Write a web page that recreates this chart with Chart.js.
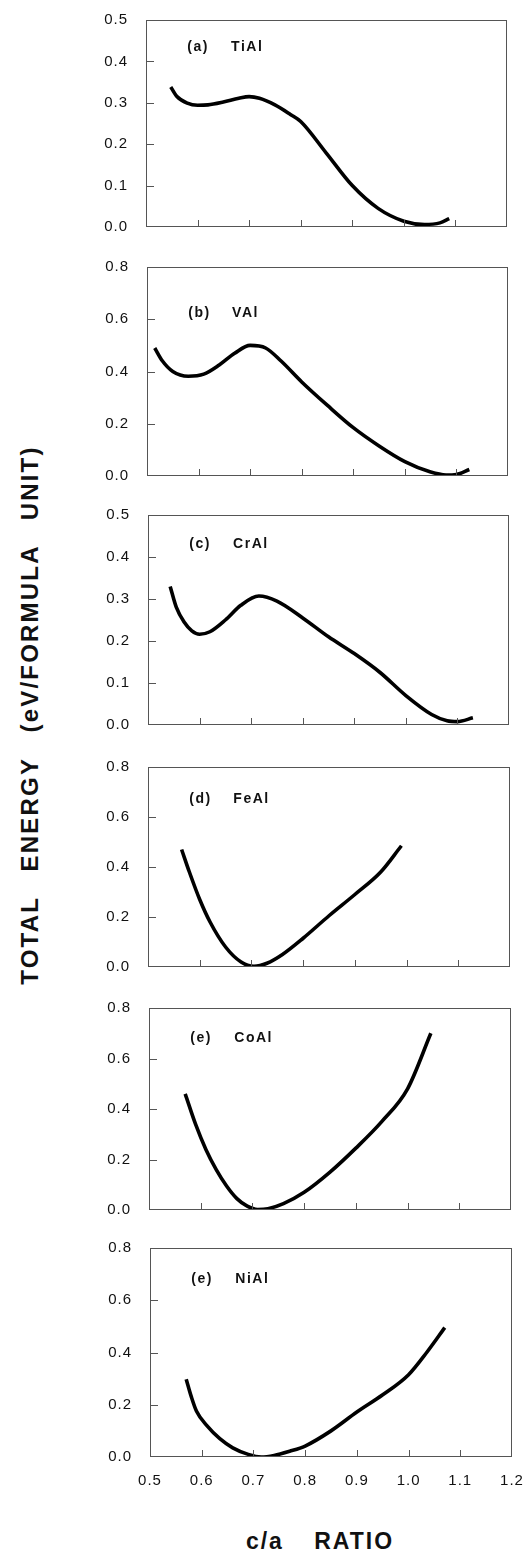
<!DOCTYPE html>
<html>
<head>
<meta charset="utf-8">
<script src="https://cdn.jsdelivr.net/npm/chart.js@4.4.1/dist/chart.umd.min.js"></script>
<style>
  body { margin: 0; background: #fff; width: 530px; height: 1562px; position: relative; overflow: hidden;
         font-family: "Liberation Sans", Arial, sans-serif; }
  canvas { position: absolute; left: 0; }
  #ytitle { position: absolute; width: 700px; height: 30px; line-height: 30px; left: -320px; top: 700px;
            text-align: center; transform: rotate(-90deg); font-weight: bold; font-size: 24px;
            letter-spacing: 2.2px; word-spacing: 16px; color: #111; white-space: nowrap; }
  #xtitle { position: absolute; left: 180px; width: 280px; top: 1528px; text-align: center;
            font-weight: bold; font-size: 23px; letter-spacing: 2px; word-spacing: 22px; color: #111; }
</style>
</head>
<body>
<div id="ytitle">TOTAL ENERGY (eV/FORMULA UNIT)</div>
<div id="xtitle">c/a RATIO</div>

<script>
// c/a ratio and energy (eV/formula unit)
const caTi = [0.548, 0.56, 0.58, 0.60, 0.62, 0.65, 0.68, 0.70, 0.72, 0.75, 0.78, 0.80, 0.85, 0.90, 0.95, 1.00, 1.04, 1.07, 1.088]
const eTi  = [0.338, 0.315, 0.299, 0.294, 0.295, 0.302, 0.311, 0.315, 0.311, 0.295, 0.272, 0.255, 0.178, 0.10, 0.045, 0.014, 0.006, 0.010, 0.020]

const caV = [0.515, 0.53, 0.55, 0.58, 0.61, 0.64, 0.67, 0.70, 0.73, 0.76, 0.80, 0.85, 0.90, 0.95, 1.00, 1.05, 1.08, 1.10, 1.125]
const eV  = [0.49, 0.44, 0.40, 0.382, 0.39, 0.425, 0.47, 0.50, 0.49, 0.44, 0.36, 0.27, 0.185, 0.115, 0.055, 0.015, 0.004, 0.006, 0.025]

const caCr = [0.543, 0.555, 0.57, 0.585, 0.60, 0.62, 0.65, 0.68, 0.715, 0.75, 0.80, 0.85, 0.90, 0.95, 1.00, 1.05, 1.08, 1.10, 1.13]
const eCr  = [0.33, 0.28, 0.245, 0.224, 0.216, 0.222, 0.25, 0.285, 0.307, 0.295, 0.255, 0.21, 0.17, 0.125, 0.07, 0.025, 0.01, 0.008, 0.017]

const caFe = [0.565, 0.58, 0.60, 0.62, 0.65, 0.68, 0.705, 0.73, 0.76, 0.80, 0.85, 0.90, 0.95, 0.99]
const eFe  = [0.47, 0.38, 0.27, 0.18, 0.08, 0.02, 0.003, 0.015, 0.05, 0.115, 0.205, 0.29, 0.38, 0.485]

const caCo = [0.57, 0.59, 0.61, 0.63, 0.65, 0.67, 0.69, 0.71, 0.73, 0.76, 0.80, 0.85, 0.90, 0.95, 1.00, 1.045]
const eCo  = [0.46, 0.34, 0.24, 0.16, 0.095, 0.045, 0.015, 0.002, 0.005, 0.025, 0.07, 0.15, 0.245, 0.35, 0.48, 0.70]

const caNi = [0.57, 0.58, 0.59, 0.61, 0.635, 0.66, 0.69, 0.715, 0.74, 0.77, 0.80, 0.85, 0.90, 0.95, 1.00, 1.035, 1.07]
const eNi  = [0.298, 0.23, 0.175, 0.12, 0.07, 0.035, 0.01, 0.0, 0.006, 0.022, 0.042, 0.10, 0.172, 0.238, 0.315, 0.40, 0.495]

const tags  = ['(a)', '(b)', '(c)', '(d)', '(e)', '(e)']
const names = ['TiAl', 'VAl', 'CrAl', 'FeAl', 'CoAl', 'NiAl']
const yMax  = [0.5, 0.8, 0.5, 0.8, 0.8, 0.8]
const yStep = [0.1, 0.2, 0.1, 0.2, 0.2, 0.2]
const xTicks = [0.5, 0.6, 0.7, 0.8, 0.9, 1.0, 1.1, 1.2]

const series = [[caTi, eTi], [caV, eV], [caCr, eCr], [caFe, eFe], [caCo, eCo], [caNi, eNi]]

// page layout: plot box edges for each panel (the scan is slightly skewed)
const boxTop    = [15, 262, 510, 762, 1003, 1243]
const boxBottom = [232, 481, 730, 972, 1215, 1457]
const boxLeft   = [146, 147, 148, 148, 149, 150]
const boxRight  = [507, 508, 509, 510, 511, 512]
const labelY = [0.87, 0.78, 0.86, 0.84, 0.85, 0.85]   // fraction of y range
const font = '"Liberation Sans", Arial, sans-serif'

// box, inward ticks and the panel label
const framePlugin = {
    id: 'frame',
    beforeDraw(chart) { chart.ctx.letterSpacing = '1px' },
    afterDatasetsDraw(chart, args, opts) {
        const {ctx, chartArea: a, scales: {x, y}} = chart
        ctx.save()
        ctx.strokeStyle = '#555'
        ctx.lineWidth = 1
        ctx.strokeRect(a.left + 0.5, a.top + 0.5, a.right - a.left - 1, a.bottom - a.top - 1)
        ctx.beginPath()
        y.ticks.forEach(t => {
            if (t.value <= 0 || t.value >= y.max) return
            const py = Math.round(y.getPixelForValue(t.value)) + 0.5
            ctx.moveTo(a.left, py); ctx.lineTo(a.left + 8, py)
        })
        x.ticks.forEach(t => {
            if (t.value <= x.min + 1e-6 || t.value >= x.max - 1e-6) return
            const px = Math.round(x.getPixelForValue(t.value)) + 0.5
            ctx.moveTo(px, a.bottom); ctx.lineTo(px, a.bottom - 7)
        })
        ctx.stroke()
        ctx.fillStyle = '#111'
        ctx.letterSpacing = '1.5px'
        ctx.font = 'bold 14px ' + font
        ctx.textBaseline = 'middle'
        const ly = a.top + (a.bottom - a.top) * (1 - opts.ly)
        ctx.fillText(opts.tag, x.getPixelForValue(0.58), ly)
        ctx.fillText(opts.name, x.getPixelForValue(0.665), ly)
        ctx.restore()
    }
}

series.forEach((s, i) => {
    const last = i === series.length - 1
    const top = boxTop[i] - 14
    const h = boxBottom[i] - boxTop[i] + 28 + (last ? 34 : 0)
    const cv = document.createElement('canvas')
    cv.width = 530; cv.height = h
    cv.style.top = top + 'px'
    document.body.appendChild(cv)

    const chart = new Chart(cv, {
        type: 'line',
        data: {
            datasets: [{
                data: s[0].map((c, k) => ({x: c, y: s[1][k]})),
                borderColor: '#000',
                borderWidth: 3.6,
                pointRadius: 0,
                cubicInterpolationMode: 'monotone',
                fill: false
            }]
        },
        options: {
            responsive: false,
            animation: false,
            layout: {padding: {left: 0, right: 530 - boxRight[i], top: 14, bottom: last ? 0 : 14}},
            plugins: {
                legend: {display: false},
                tooltip: {enabled: false},
                frame: {tag: tags[i], name: names[i], ly: labelY[i]}
            },
            scales: {
                x: {
                    type: 'linear',
                    min: 0.5, max: 1.2,
                    afterBuildTicks: sc => { sc.ticks = xTicks.map(v => ({value: v})) },
                    grid: {display: false},
                    border: {display: false},
                    ticks: {
                        display: last,
                        padding: 7,
                        color: '#111',
                        font: {family: font, size: 15},
                        callback: v => v.toFixed(1)
                    },
                    afterFit: sc => { sc.height = last ? 34 : 0 }
                },
                y: {
                    min: 0, max: yMax[i],
                    ticks: {
                        stepSize: yStep[i],
                        padding: 10,
                        color: '#111',
                        font: {family: font, size: 15},
                        callback: v => v.toFixed(1)
                    },
                    grid: {display: false},
                    border: {display: false},
                    afterFit: sc => { sc.width = boxLeft[i] }
                }
            }
        },
        plugins: [framePlugin]
    })

    // nudge the padding so the plot box lands where the reference has it
    const pad = chart.options.layout.padding
    for (let k = 0; k < 3; k++) {
        const a = chart.chartArea
        pad.top += 14 - a.top
        pad.bottom += a.bottom - (h - 14 - (last ? 34 : 0))
        pad.right += a.right - boxRight[i]
        chart.update()
    }
})
</script>
</body>
</html>
